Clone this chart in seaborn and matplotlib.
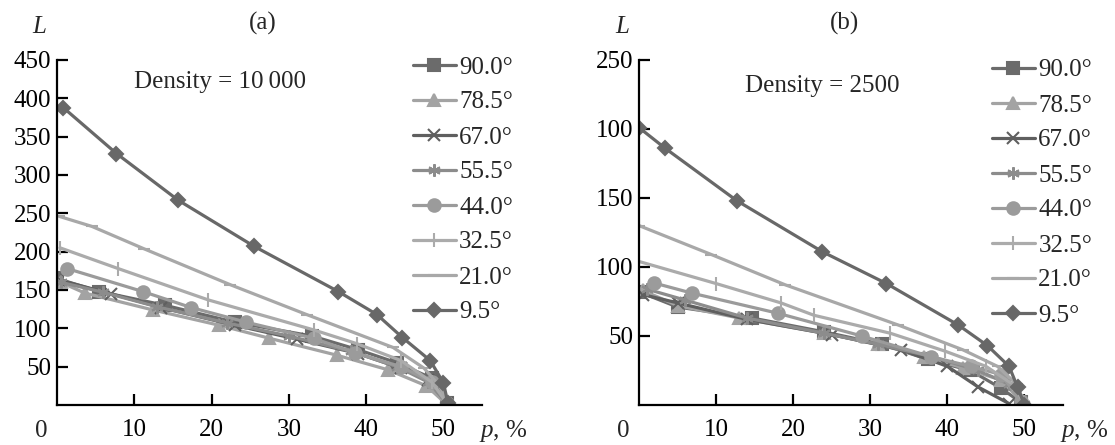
import matplotlib
matplotlib.use("Agg")
import matplotlib.pyplot as plt
import seaborn as sns
import pandas as pd

# ---------------- data ----------------
labels = ["90.0°", "78.5°", "67.0°", "55.5°", "44.0°", "32.5°", "21.0°", "9.5°"]

# panel (a): Density = 10000
xa_90 = [0, 5.5, 14, 23, 33, 39, 44, 48.5, 50.5]
ya_90 = [165, 148, 130, 108, 90, 72, 55, 35, 2]
xa_785 = [0.5, 3.6, 12.4, 21, 27.5, 36.2, 42.8, 47.8, 50.3]
ya_785 = [160, 146, 124, 104, 87, 65, 46, 25, 2]
xa_67 = [0.3, 7, 13.5, 23, 31, 39, 44.5, 48, 50.5]
ya_67 = [163, 145, 127, 104, 86, 67, 48, 32, 2]
xa_555 = [0.5, 6, 13, 22, 30, 38, 44, 48, 50.5]
ya_555 = [160, 147, 128, 107, 90, 70, 50, 30, 2]
xa_44 = [1.3, 11.1, 17.4, 24.5, 33.2, 38.6, 44.5, 48.5, 50.5]
ya_44 = [178, 148, 127, 108, 87, 68, 50, 30, 2]
xa_325 = [0.4, 7.9, 19.6, 33.2, 38.8, 44.5, 48.5, 50.5]
ya_325 = [205, 178, 137, 98, 80, 58, 30, 2]
xa_21 = [0.3, 4.5, 11.2, 22.4, 32.3, 43.5, 47.5, 49.5, 50.6]
ya_21 = [246, 233, 204, 157, 118, 75, 48, 25, 2]
xa_95 = [0.8, 7.7, 15.7, 25.5, 36.4, 41.4, 44.7, 48.3, 50.0, 50.6]
ya_95 = [388, 328, 267, 207, 148, 118, 88, 58, 29, 2]

# panel (b): Density = 2500
xb_90 = [0, 5, 14.7, 24, 31.5, 37.5, 43, 47, 49.5]
yb_90 = [82, 71, 63, 53, 44, 33, 25, 12, 2]
xb_785 = [0.5, 5, 13, 24, 31, 37, 42, 47, 49.5]
yb_785 = [83, 72, 63, 52, 44, 35, 27, 18, 3]
xb_67 = [0.5, 5, 14, 25, 34, 40, 44, 48]
yb_67 = [80, 74, 62, 51, 40, 28, 13, 1]
xb_555 = [1, 6, 14, 24, 31, 38, 44, 48, 50]
yb_555 = [84, 76, 63, 52, 44, 35, 25, 15, 1]
xb_44 = [1.9, 6.9, 18, 28.9, 37.9, 43, 47, 49.5]
yb_44 = [88.5, 81, 66.5, 50, 35, 28, 22, 3]
xb_325 = [0, 10, 18.4, 22.7, 32.6, 39.7, 45, 48.5, 50]
yb_325 = [104, 88, 74, 65, 52, 39, 28, 15, 1]
xb_21 = [0, 9.4, 19, 33.6, 42, 46.5, 49, 50]
yb_21 = [130, 109, 87, 58, 40, 28, 15, 1]
xb_95 = [0, 3.4, 12.7, 23.8, 32.1, 41.4, 45.2, 48.0, 49.1, 50.0]
yb_95 = [201, 186, 148, 111, 88, 58, 43, 28, 13, 0]

yticks_a = [50, 100, 150, 200, 250, 300, 350, 400, 450]
yticks_b = [50, 100, 150, 200, 250]
ytick_labels_b = ["50", "100", "150", "100", "250"]  # as printed in the original
xticks = [10, 20, 30, 40, 50]

panel_a = [(xa_90, ya_90), (xa_785, ya_785), (xa_67, ya_67), (xa_555, ya_555),
           (xa_44, ya_44), (xa_325, ya_325), (xa_21, ya_21), (xa_95, ya_95)]
panel_b = [(xb_90, yb_90), (xb_785, yb_785), (xb_67, yb_67), (xb_555, yb_555),
           (xb_44, yb_44), (xb_325, yb_325), (xb_21, yb_21), (xb_95, yb_95)]

# ---------------- style ----------------
colors = ["#6b6b6b", "#a3a3a3", "#5f5f5f", "#8c8c8c", "#9b9b9b", "#ababab", "#a8a8a8", "#686868"]
markers = ["s", "^", "x", (6, 2, 0), "o", "|", "_", "D"]
msizes = [8.5, 9, 8, 9, 9, 10, 8, 7]

sns.set_style("ticks")
plt.rcParams["font.family"] = ["Liberation Serif", "DejaVu Serif"]
plt.rcParams["mathtext.fontset"] = "custom"
plt.rcParams["mathtext.rm"] = "Liberation Serif"
plt.rcParams["mathtext.it"] = "Liberation Serif:italic"

FS = 18
fig = plt.figure(figsize=(11.15, 4.45), dpi=100)
ax_a = fig.add_axes([0.0511, 0.0899, 0.3812, 0.7753])
ax_b = fig.add_axes([0.5731, 0.0899, 0.3803, 0.7753])


def draw(ax, series, ylim, yticks, yticklabels, title, dens, dens_x, dens_y, leg_xy):
    for (xs, ys), lab, c, m, ms in zip(series, labels, colors, markers, msizes):
        df = pd.DataFrame({"p": xs, "L": ys})
        sns.lineplot(data=df, x="p", y="L", ax=ax, color=c, marker=m, markersize=ms,
                     markeredgecolor=c, markerfacecolor=c, markeredgewidth=1.5,
                     linewidth=2.3, label=lab, estimator=None, sort=False)
    ax.set_xlim(0, 55)
    ax.set_ylim(*ylim)
    ax.set_xticks(xticks)
    ax.set_xticklabels([str(t) for t in xticks])
    ax.set_yticks(yticks)
    ax.set_yticklabels(yticklabels)
    ax.set_xlabel("")
    ax.set_ylabel("")
    for s in ["top", "right"]:
        ax.spines[s].set_visible(False)
    for s in ["left", "bottom"]:
        ax.spines[s].set_linewidth(1.6)
        ax.spines[s].set_color("black")
    ax.tick_params(direction="in", length=8, width=1.6, labelsize=FS, colors="black")
    ax.tick_params(axis="x", pad=10)
    ax.tick_params(axis="y", pad=4)
    ax.text(-0.038, -0.093, "0", transform=ax.transAxes, ha="center", va="baseline", fontsize=FS)
    ax.text(1.05, -0.093, "$p$, %", transform=ax.transAxes, ha="center", va="baseline", fontsize=FS)
    ax.text(-0.04, 1.096, "$L$", transform=ax.transAxes, ha="center", va="center", fontsize=FS)
    ax.text(0.485, 1.107, title, transform=ax.transAxes, ha="center", va="center", fontsize=FS)
    ax.text(dens_x, dens_y, dens, transform=ax.transAxes, ha="center", va="center", fontsize=FS)
    h, l = ax.get_legend_handles_labels()
    ax.legend(h, l, loc="upper left", bbox_to_anchor=leg_xy, bbox_transform=fig.transFigure,
              frameon=False, fontsize=FS, handlelength=1.7, handletextpad=0.15,
              labelspacing=0.5, borderpad=0, borderaxespad=0)


draw(ax_a, panel_a, (0, 450), yticks_a, [str(t) for t in yticks_a], "(a)",
     "Density = 10\u2009000", 0.384, 0.936, (413 / 1115, 1 - 56 / 445))
draw(ax_b, panel_b, (0, 250), yticks_b, ytick_labels_b, "(b)",
     "Density = 2500", 0.432, 0.925, (992 / 1115, 1 - 59 / 445))

fig.savefig("out.png", dpi=100)
